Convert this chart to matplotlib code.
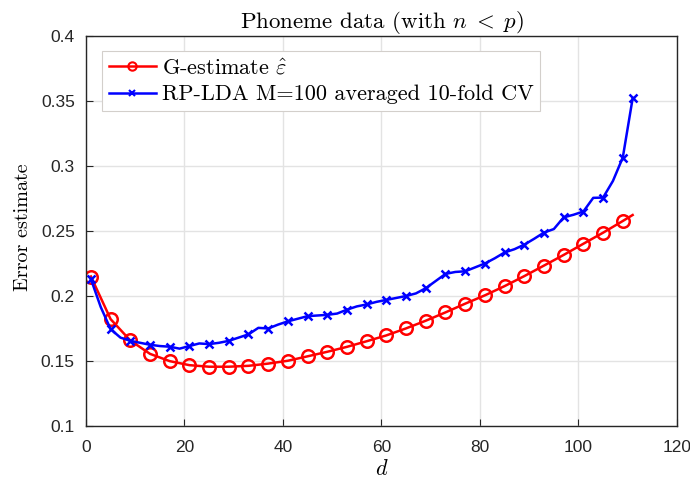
import matplotlib
matplotlib.use('Agg')
import matplotlib.pyplot as plt

# Phoneme data: error estimates against projected dimension d
d_red = [1, 5, 9, 13, 17, 21, 25, 29, 33, 37, 41, 45, 49, 53, 57, 61, 65,
         69, 73, 77, 81, 85, 89, 93, 97, 101, 105, 109, 111]
g_estimate = [0.215, 0.1822, 0.1658, 0.1555, 0.1499, 0.1468, 0.1456, 0.1456,
              0.1463, 0.1480, 0.1502, 0.1536, 0.1571, 0.1609, 0.1652, 0.1697,
              0.1751, 0.1810, 0.1874, 0.1941, 0.2005, 0.2076, 0.2153, 0.2234,
              0.2316, 0.2402, 0.2487, 0.2577, 0.2623]

d_blue = list(range(1, 112, 2))
rp_lda_cv = [0.213, 0.1915, 0.1745, 0.168, 0.1655, 0.164, 0.1625, 0.1615,
             0.161, 0.1595, 0.1615, 0.1635, 0.163, 0.164, 0.1655, 0.168,
             0.1705, 0.1755, 0.175, 0.178, 0.1805, 0.1825, 0.1845, 0.185,
             0.1855, 0.1865, 0.1895, 0.192, 0.1935, 0.1955, 0.197, 0.1985,
             0.200, 0.202, 0.206, 0.2115, 0.217, 0.2185, 0.219, 0.222,
             0.225, 0.229, 0.2335, 0.236, 0.2395, 0.244, 0.2488, 0.2515,
             0.2605, 0.2625, 0.265, 0.2755, 0.2757, 0.2885, 0.3065, 0.352]

xticks = [0, 20, 40, 60, 80, 100, 120]
yticks = [0.1, 0.15, 0.2, 0.25, 0.3, 0.35, 0.4]
ytick_labels = ['0.1', '0.15', '0.2', '0.25', '0.3', '0.35', '0.4']

plt.rcParams['mathtext.fontset'] = 'cm'
serif = 'cmr10'
dark = '#262626'

fig = plt.figure(figsize=(6.9, 4.8), dpi=100)
ax = fig.add_axes([0.1246, 0.1125, 0.8565, 0.8125])

ax.plot(d_red, g_estimate, color='red', lw=1.8, marker='o', ms=9,
        mfc='none', mew=1.8, markevery=list(range(len(d_red) - 1)),
        label='G-estimate $\\hat{\\varepsilon}$')
ax.plot(d_blue, rp_lda_cv, color='blue', lw=1.8, marker='x', ms=6,
        mew=1.8, markevery=list(range(0, len(d_blue), 2)) + [len(d_blue) - 1],
        label='RP-LDA M=100 averaged 10-fold CV')

ax.set_xlim(0, 120)
ax.set_ylim(0.1, 0.4)
ax.set_xticks(xticks)
ax.set_yticks(yticks)
ax.set_yticklabels(ytick_labels)
ax.grid(True, color='#e3e3e3', lw=1)
ax.set_axisbelow(True)
ax.tick_params(direction='in', length=5, width=0.8, colors=dark,
               labelsize=12.5, top=False, right=False)
ax.tick_params(axis='x', pad=10)
ax.tick_params(axis='y', pad=8)
for lab in ax.get_xticklabels() + ax.get_yticklabels():
    lab.set_family('Liberation Sans')
for sp in ax.spines.values():
    sp.set_color(dark)
    sp.set_linewidth(1.0)

ax.set_title('Phoneme data (with $n\\;<\\;p$)', fontfamily=serif,
             fontsize=16.5, pad=5)
ax.set_xlabel('$d$', fontsize=16, labelpad=3)
ax.set_ylabel('Error estimate', fontfamily=serif, fontsize=14.5)
ax.yaxis.set_label_coords(-0.0915, 0.51)

leg = ax.legend(loc='upper left', bbox_to_anchor=(0.027, 0.961),
                prop={'family': serif, 'size': 16}, fancybox=False,
                framealpha=1, edgecolor='#d3cfcb', handlelength=2.15,
                handletextpad=0.25, borderpad=0.3, labelspacing=0.3,
                borderaxespad=0)
leg.get_frame().set_linewidth(0.8)
leg.legend_handles[0].set_markersize(6)
leg.legend_handles[0].set_markeredgewidth(1.5)
leg.legend_handles[1].set_markersize(4.5)
leg.legend_handles[1].set_markeredgewidth(1.5)

plt.savefig('out.png', dpi=100)
